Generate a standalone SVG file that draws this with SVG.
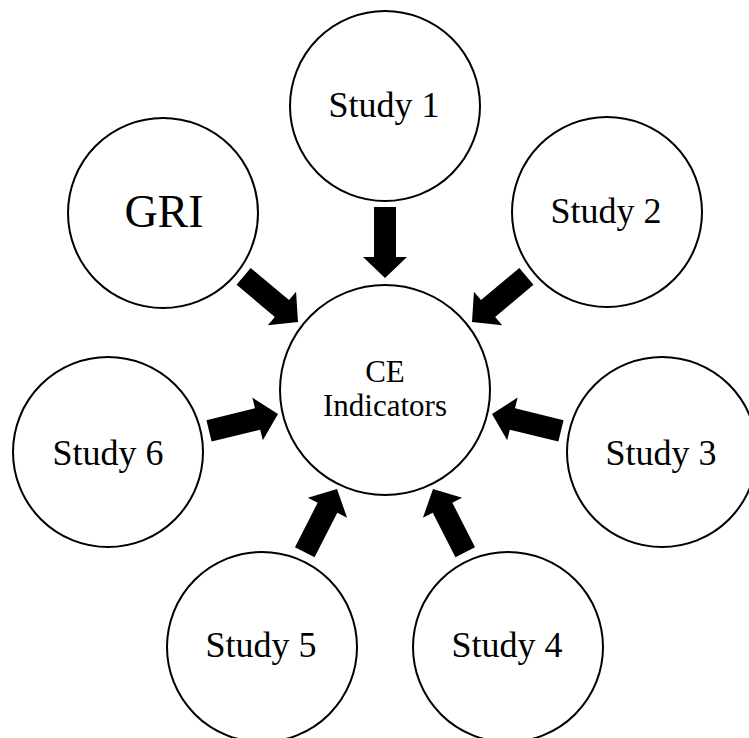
<svg xmlns="http://www.w3.org/2000/svg" width="749" height="738" viewBox="0 0 749 738">
  <style>
    .node circle { fill: #ffffff; stroke: #000000; stroke-width: 2; }
    .label { font-family: "Liberation Serif", "Times New Roman", serif; fill: #000000; text-anchor: middle; }
    .std { font-size: 36px; }
    .big { font-size: 46px; }
    .mid { font-size: 31px; }
    .arrow { fill: #000000; }
  </style>
  <defs>
    <!-- block arrow, tip at origin, pointing along +x -->
    <path id="blockArrow" d="M-71,-11 H-21 V-22 L0,0 L-21,22 V11 H-71 Z"/>
  </defs>
  <rect width="749" height="738" fill="#ffffff"/>

  <g id="connectors" class="arrow">
    <use href="#blockArrow" transform="translate(385,278) rotate(90)"/>
    <use href="#blockArrow" transform="translate(298,322) rotate(40)"/>
    <use href="#blockArrow" transform="translate(472,322) rotate(140)"/>
    <use href="#blockArrow" transform="translate(278,414) rotate(-13.7)"/>
    <use href="#blockArrow" transform="translate(492,414) rotate(193.7)"/>
    <use href="#blockArrow" transform="translate(337,489) rotate(-63)"/>
    <use href="#blockArrow" transform="translate(433,489) rotate(-117)"/>
  </g>

  <g id="ce" class="node">
    <circle cx="385" cy="390" r="105"/>
    <text class="label mid" x="385" y="382">CE</text>
    <text class="label mid" x="385" y="416">Indicators</text>
  </g>
  <g id="study1" class="node">
    <circle cx="385" cy="106" r="95"/>
    <text class="label std" x="384" y="117">Study 1</text>
  </g>
  <g id="gri" class="node">
    <circle cx="163" cy="213" r="95"/>
    <text class="label big" x="164" y="227">GRI</text>
  </g>
  <g id="study2" class="node">
    <circle cx="607" cy="212" r="95"/>
    <text class="label std" x="606" y="223">Study 2</text>
  </g>
  <g id="study6" class="node">
    <circle cx="108" cy="452" r="95"/>
    <text class="label std" x="108" y="465">Study 6</text>
  </g>
  <g id="study3" class="node">
    <circle cx="662" cy="452" r="95"/>
    <text class="label std" x="661" y="465">Study 3</text>
  </g>
  <g id="study5" class="node">
    <circle cx="262" cy="647" r="95"/>
    <text class="label std" x="261" y="657">Study 5</text>
  </g>
  <g id="study4" class="node">
    <circle cx="508" cy="647" r="95"/>
    <text class="label std" x="507" y="657">Study 4</text>
  </g>
</svg>
